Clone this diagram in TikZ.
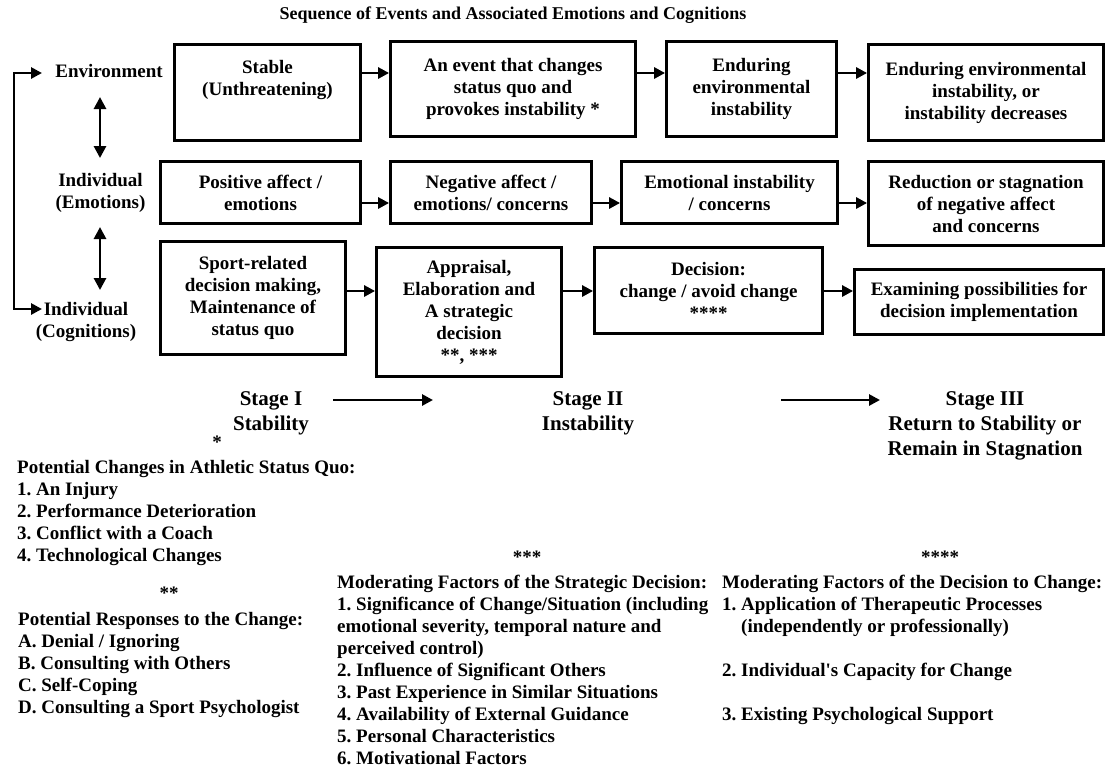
\documentclass[tikz,border=0pt]{standalone}
\usepackage{fontspec}
\setmainfont{Liberation Serif}[Ligatures=TeXOff]
\usetikzlibrary{arrows.meta}
\frenchspacing
\begin{document}
\frenchspacing
\begin{tikzpicture}[x=1pt,y=-1pt,
  every node/.style={font=\fontsize{19}{22}\selectfont\bfseries\frenchspacing, inner sep=0pt},
  box/.style={draw, line width=2.8pt, align=center, inner sep=0pt},
  arr/.style={line width=2.8pt, -{Triangle[length=11pt,width=11pt]}},
  darr/.style={line width=2.8pt, {Triangle[length=12pt,width=12pt]}-{Triangle[length=12pt,width=12pt]}},
  lbl/.style={align=center},
  stage/.style={align=center, font=\fontsize{21}{25}\selectfont\bfseries},
  txt/.style={align=left, anchor=north west, font=\fontsize{19}{22}\selectfont\bfseries\frenchspacing}]
\useasboundingbox (0,0) rectangle (1108,769);

% title
\node[font=\fontsize{18}{21}\selectfont\bfseries] (title) at (513,15) {Sequence of Events and Associated Emotions and Cognitions};

% row labels
\node[lbl] (env) at (109,71) {Environment};
\node[lbl] (emo) at (100.5,193) {Individual\\(Emotions)};
\node[lbl] (cog) at (86,322) {Individual\\(Cognitions)};

% row 1
\node[box, minimum width=186pt, minimum height=96pt] (s1) at (267.5,92.5) {Stable\\(Unthreatening)\\\strut};
\node[box, minimum width=245pt, minimum height=95pt] (s2) at (513,89) {An event that changes\\status quo and\\provokes instability *};
\node[box, minimum width=170pt, minimum height=95pt] (s3) at (751.5,89) {Enduring\\environmental\\instability};
\node[box, minimum width=235pt, minimum height=96pt] (s4) at (986,92.5) {Enduring environmental\\instability, or\\instability decreases};

% row 2
\node[box, minimum width=200pt, minimum height=62pt] (e1) at (260.5,192.5) {Positive affect /\\emotions};
\node[box, minimum width=201pt, minimum height=62pt] (e2) at (491,192.5) {Negative affect /\\emotions/ concerns};
\node[box, minimum width=216pt, minimum height=62pt] (e3) at (729.5,192.5) {Emotional instability\\/ concerns};
\node[box, minimum width=235pt, minimum height=84pt] (e4) at (986,203.5) {Reduction or stagnation\\of negative affect\\and concerns};

% row 3
\node[box, minimum width=185pt, minimum height=113pt] (c1) at (253,298) {Sport-related\\decision making,\\Maintenance of\\status quo};
\node[box, minimum width=185pt, minimum height=129pt] (c2) at (469,312) {Appraisal,\\Elaboration and\\A strategic\\decision\\**, ***};
\node[box, minimum width=228pt, minimum height=86pt] (c3) at (708.5,290.5) {Decision:\\change / avoid change\\****};
\node[box, minimum width=249pt, minimum height=65pt] (c4) at (979,302) {Examining possibilities for\\decision implementation};

% row arrow levels
\coordinate (r1) at (0,73);
\coordinate (r2) at (0,203);
\coordinate (r3) at (0,291);
\draw[arr] (s1.east |- r1) -- (s2.west |- r1);
\draw[arr] (s2.east |- r1) -- (s3.west |- r1);
\draw[arr] (s3.east |- r1) -- (s4.west |- r1);
\draw[arr] (e1.east |- r2) -- (e2.west |- r2);
\draw[arr] (e2.east |- r2) -- (e3.west |- r2);
\draw[arr] (e3.east |- r2) -- (e4.west |- r2);
\draw[arr] (c1.east |- r3) -- (c2.west |- r3);
\draw[arr] (c2.east |- r3) -- (c3.west |- r3);
\draw[arr] (c3.east |- r3) -- (c4.west |- r3);

% double arrows between row labels
\coordinate (d1a) at (100,97);
\coordinate (d1b) at (100,158);
\coordinate (d2a) at (100,227);
\coordinate (d2b) at (100,290);
\draw[darr] (d1a) -- (d1b);
\draw[darr] (d2a) -- (d2b);

% left bracket
\coordinate (lt) at (42,73);
\coordinate (lb) at (42,309);
\draw[line width=2.8pt, {Triangle[length=11pt,width=11pt]}-{Triangle[length=11pt,width=11pt]}] (lt) -- (14,73) -- (14,309) -- (lb);

% stages
\node[stage] (st1) at (271,413.5) {Stage I\\Stability};
\node[stage] (st2) at (588,413.5) {Stage II\\Instability};
\node[stage] (st3) at (985,426) {Stage III\\Return to Stability or\\Remain in Stagnation};
\coordinate (sa1) at (333,400);
\coordinate (sa2) at (433,400);
\coordinate (sb1) at (781,400);
\coordinate (sb2) at (880,400);
\draw[arr] (sa1) -- (sa2);
\draw[arr] (sb1) -- (sb2);

% footnotes
\node (n1) at (217,442) {*};
\node[txt] (ta) at (17,460) {Potential Changes in Athletic Status Quo:\\1. An Injury\\2. Performance Deterioration\\3. Conflict with a Coach\\4. Technological Changes};

\node (n2) at (169,593) {**};
\node[txt] (tb) at (18,612) {Potential Responses to the Change:\\A. Denial / Ignoring\\B. Consulting with Others\\C. Self-Coping\\D. Consulting a Sport Psychologist};

\node (n3) at (527,557) {***};
\node[txt] (tc) at (337,575) {Moderating Factors of the Strategic Decision:\\1. Significance of Change/Situation (including\\emotional severity, temporal nature and\\perceived control)\\2. Influence of Significant Others\\3. Past Experience in Similar Situations\\4. Availability of External Guidance\\5. Personal Characteristics\\6. Motivational Factors};

\node (n4) at (940,557) {****};
\node[txt] (td) at (722,575) {Moderating Factors of the Decision to Change:\\1. Application of Therapeutic Processes\\\hspace*{19pt}(independently or professionally)\\[22pt]2. Individual's Capacity for Change\\[22pt]3. Existing Psychological Support};
\end{tikzpicture}
\end{document}
